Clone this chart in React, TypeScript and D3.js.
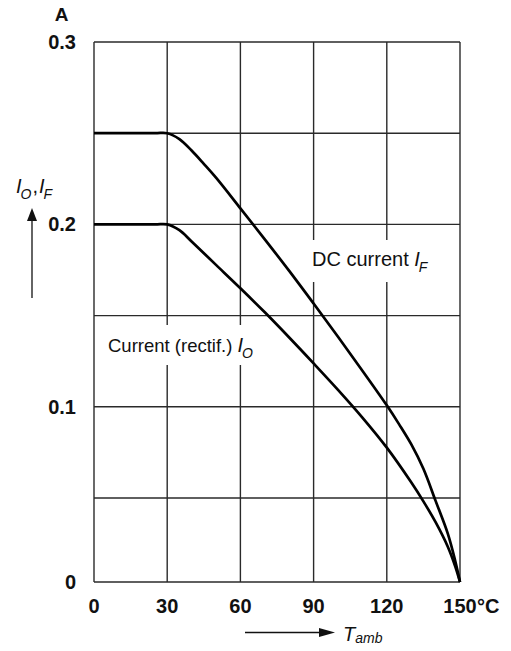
import React from 'react';
import * as d3 from 'd3';

// ambient temperature (°C) vs. permissible current (A)
const tempF = [0, 25, 30, 35, 40, 45, 50, 60, 70, 80, 90, 100, 110, 120, 125, 130, 135, 140, 145, 148, 150];
const currentF = [0.25, 0.25, 0.25, 0.2468, 0.2405, 0.2332, 0.2256, 0.2088, 0.1918, 0.1745, 0.1566, 0.1384, 0.1198, 0.1008, 0.0905, 0.0795, 0.066, 0.0483, 0.0288, 0.0128, 0];
const tempO = [0, 25, 30, 35, 40, 50, 60, 70, 80, 90, 100, 110, 120, 130, 135, 140, 145, 148, 150];
const currentO = [0.2, 0.2, 0.2, 0.1968, 0.1906, 0.1778, 0.165, 0.1518, 0.138, 0.1238, 0.1093, 0.0941, 0.0776, 0.0586, 0.048, 0.0356, 0.021, 0.0095, 0];

const xTicks = [0, 30, 60, 90, 120, 150];
const yGrid = [0, 0.05, 0.1, 0.15, 0.2, 0.25, 0.3];
const yLabels = [0, 0.1, 0.2, 0.3];

const font = 'Liberation Sans, Arial, Helvetica, sans-serif';
const ink = '#111';
const gridInk = '#2a2a2a';

export default function App() {
  const width = 511;
  const height = 651;

  const x = d3.scaleLinear().domain([0, 150]).range([94, 460]);
  // the scanned grid has a slightly shorter bottom cell
  const y = d3.scaleLinear().domain([0, 0.05, 0.3]).range([582, 498, 42]);

  const line = d3.line<[number, number]>()
    .x(d => x(d[0]))
    .y(d => y(d[1]))
    .curve(d3.curveCatmullRom.alpha(0.5));

  const pathF = line(tempF.map((t, i) => [t, currentF[i]]) as [number, number][]) || '';
  const pathO = line(tempO.map((t, i) => [t, currentO[i]]) as [number, number][]) || '';

  return (
    <svg width={width} height={height} style={{ position: 'absolute', left: 0, top: 0, background: '#fff' }}
      fontFamily={font}>
      <rect x={0} y={0} width={width} height={height} fill="#fff" />

      {/* grid */}
      {xTicks.map(t => (
        <line key={'vx' + t} x1={x(t)} x2={x(t)} y1={y(0)} y2={y(0.3)} stroke={gridInk} strokeWidth={1.4} />
      ))}
      {yGrid.map(v => (
        <line key={'hy' + v} x1={x(0)} x2={x(150)} y1={y(v)} y2={y(v)} stroke={gridInk} strokeWidth={1.4} />
      ))}

      {/* label backgrounds break the grid */}
      <rect x={308} y={240} width={132} height={42} fill="#fff" />
      <rect x={103} y={325} width={168} height={40} fill="#fff" />

      {/* curves */}
      <path d={pathF} fill="none" stroke="#000" strokeWidth={2.7} strokeLinejoin="round" />
      <path d={pathO} fill="none" stroke="#000" strokeWidth={2.7} strokeLinejoin="round" />

      {/* curve labels */}
      <text x={312} y={266} fontSize={20} fill={ink}>
        DC current <tspan fontStyle="italic">I</tspan>
        <tspan fontStyle="italic" fontSize={14} dy={6} dx={-1}>F</tspan>
      </text>
      <text x={108} y={352} fontSize={18.5} fill={ink}>
        Current (rectif.) <tspan fontStyle="italic" fontSize={20}>I</tspan>
        <tspan fontStyle="italic" fontSize={14} dy={6} dx={-1}>O</tspan>
      </text>

      {/* y tick labels */}
      {yLabels.map(v => (
        <text key={'yl' + v} x={76} y={y(v) + 7} textAnchor="end" fontSize={20} fontWeight="bold" fill={ink}>
          {v === 0 ? '0' : v.toFixed(1)}
        </text>
      ))}
      <text x={61.5} y={21} textAnchor="middle" fontSize={19} fontWeight="bold" fill={ink}>A</text>

      {/* x tick labels */}
      {xTicks.map(t => (
        <text key={'xl' + t} x={x(t)} y={612.5} textAnchor="middle" fontSize={20} fontWeight="bold" fill={ink}>
          {t}
        </text>
      ))}
      <text x={x(150) + 17} y={612.5} fontSize={20} fontWeight="bold" fill={ink}>°C</text>

      {/* y axis title */}
      <text x={16} y={193} fontSize={20} fill={ink}>
        <tspan fontStyle="italic">I</tspan>
        <tspan fontStyle="italic" fontSize={14} dy={6} dx={-1}>O</tspan>
        <tspan dy={-6} dx={1}>,</tspan>
        <tspan fontStyle="italic" dx={1}>I</tspan>
        <tspan fontStyle="italic" fontSize={14} dy={6} dx={-1}>F</tspan>
      </text>
      <line x1={32} x2={32} y1={298} y2={218} stroke={ink} strokeWidth={1.3} />
      <path d="M32,208 L27,221 L37,221 Z" fill={ink} />

      {/* x axis title */}
      <line x1={245} x2={322} y1={632.5} y2={632.5} stroke={ink} strokeWidth={1.3} />
      <path d="M335,632.5 L319,628 L319,637 Z" fill={ink} />
      <text x={343} y={641} fontSize={20} fill={ink}>
        <tspan fontStyle="italic">T</tspan>
        <tspan fontStyle="italic" fontSize={14} dy={2}>amb</tspan>
      </text>
    </svg>
  );
}
